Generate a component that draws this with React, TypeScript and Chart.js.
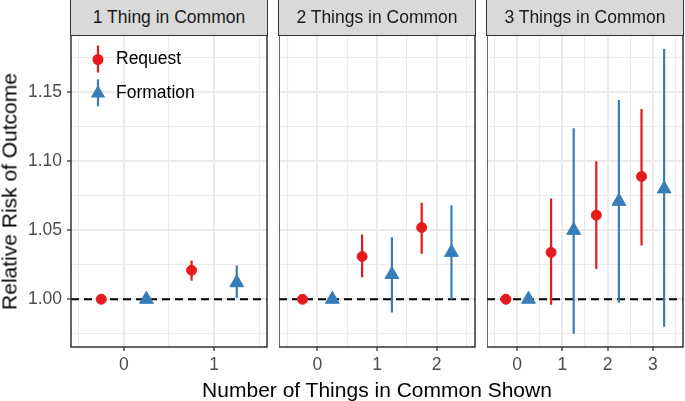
import React, { useEffect, useRef } from 'react';
import { Chart, registerables } from 'chart.js';

Chart.register(...registerables);

// ---------------- data ----------------
const PANEL_TITLES = ['1 Thing in Common', '2 Things in Common', '3 Things in Common'];
const SERIES_NAMES = ['Request', 'Formation'];
const SHOWN_COUNTS = [[0, 1], [0, 1, 2], [0, 1, 2, 3]];

const REQUEST_EST = [[1.0, 1.021], [1.0, 1.031, 1.052], [1.0, 1.034, 1.061, 1.089]];
const REQUEST_LOW = [[1.0, 1.0135], [1.0, 1.016, 1.033], [1.0, 0.996, 1.022, 1.039]];
const REQUEST_HIGH = [[1.0, 1.028], [1.0, 1.047, 1.07], [1.0, 1.073, 1.1, 1.138]];

const FORMATION_EST = [[1.0, 1.012], [1.0, 1.018, 1.034], [1.0, 1.05, 1.071, 1.08]];
const FORMATION_LOW = [[1.0, 1.001], [1.0, 0.9905, 1.0], [1.0, 0.975, 0.9975, 0.98]];
const FORMATION_HIGH = [[1.0, 1.0245], [1.0, 1.045, 1.068], [1.0, 1.124, 1.1445, 1.1815]];

const Y_MAJOR_TICKS = [1.0, 1.05, 1.1, 1.15];
const Y_MINOR_TICKS = [0.975, 1.025, 1.075, 1.125, 1.175];
const X_MAJOR_TICKS = SHOWN_COUNTS;
const X_MINOR_TICKS = [[-0.5, 0.5, 1.5], [-0.5, 0.5, 1.5, 2.5], [-0.5, 0.5, 1.5, 2.5, 3.5]];
const X_LIMITS = [[-0.585, 1.585], [-0.645, 2.645], [-0.667, 3.667]];
const Y_LIMITS = [0.9654, 1.1916];
const REFERENCE_LEVEL = 1.0;
const DODGE = 0.25;

const X_TITLE = 'Number of Things in Common Shown';
const Y_TITLE = 'Relative Risk of Outcome';

// ---------------- style / layout ----------------
const RED = '#E41A1C';
const BLUE = '#377EB8';
const FONT = "'Liberation Sans', Arial, Helvetica, sans-serif";
const W = 685;
const H = 401;
const PANEL_LEFT = [71, 279, 487];
const PANEL_WIDTH = 196;
const PANEL_TOP = 35;
const PANEL_BOTTOM = 347;

const near = (a: number, list: number[]) => list.some((v) => Math.abs(v - a) < 1e-6);

function errorBarData(k: number[], lo: number[], hi: number[], off: number) {
  const out: any[] = [];
  k.forEach((c, j) => {
    out.push({ x: c + off, y: lo[j] });
    out.push({ x: c + off, y: hi[j] });
    out.push({ x: c + off, y: null });
  });
  return out;
}

const decorPlugin = {
  id: 'panelDecor',
  beforeDatasetsDraw(chart: any) {
    const { ctx, chartArea, scales } = chart;
    const y = scales.y.getPixelForValue(REFERENCE_LEVEL);
    ctx.save();
    ctx.strokeStyle = '#000';
    ctx.lineWidth = 2;
    ctx.setLineDash([8, 5]);
    ctx.beginPath();
    ctx.moveTo(chartArea.left, y);
    ctx.lineTo(chartArea.right, y);
    ctx.stroke();
    ctx.restore();
  },
  afterDraw(chart: any) {
    const { ctx, chartArea } = chart;
    ctx.save();
    ctx.strokeStyle = '#333333';
    ctx.lineWidth = 1.5;
    ctx.strokeRect(chartArea.left, chartArea.top, chartArea.right - chartArea.left, chartArea.bottom - chartArea.top);
    ctx.restore();

    if (chart.options.plugins.panelDecor && chart.options.plugins.panelDecor.legend) {
      const keys = [
        { name: SERIES_NAMES[0], color: RED, shape: 'circle', r: 5.5, y: 59.5 },
        { name: SERIES_NAMES[1], color: BLUE, shape: 'triangle', r: 8.3, y: 93.3 },
      ];
      const kx = chartArea.left + 27;
      ctx.save();
      keys.forEach((k) => {
        ctx.strokeStyle = k.color;
        ctx.fillStyle = k.color;
        ctx.lineWidth = 2.2;
        ctx.beginPath();
        ctx.moveTo(kx, k.y - 14);
        ctx.lineTo(kx, k.y + 13);
        ctx.stroke();
        ctx.beginPath();
        if (k.shape === 'circle') {
          ctx.arc(kx, k.y, k.r, 0, Math.PI * 2);
        } else {
          const hx = (k.r * Math.sqrt(3)) / 2;
          ctx.moveTo(kx, k.y - k.r);
          ctx.lineTo(kx + hx, k.y + k.r / 2);
          ctx.lineTo(kx - hx, k.y + k.r / 2);
          ctx.closePath();
        }
        ctx.fill();
        ctx.fillStyle = '#000';
        ctx.font = `17.5px ${FONT}`;
        ctx.textBaseline = 'middle';
        ctx.textAlign = 'left';
        ctx.fillText(k.name, kx + 18, k.y);
      });
      ctx.restore();
    }
  },
};

function buildConfig(i: number): any {
  const k = SHOWN_COUNTS[i];
  const isFirst = i === 0;
  const reqPts = k.map((c, j) => ({ x: c - DODGE, y: REQUEST_EST[i][j] }));
  const formPts = k.map((c, j) => ({ x: c + DODGE, y: FORMATION_EST[i][j] }));
  const xTicks = [...X_MAJOR_TICKS[i], ...X_MINOR_TICKS[i]].sort((a, b) => a - b);
  const yTicks = [...Y_MAJOR_TICKS, ...Y_MINOR_TICKS].sort((a, b) => a - b);
  const tickFont = { family: FONT, size: 17.5 };

  return {
    type: 'scatter',
    data: {
      datasets: [
        {
          type: 'scatter', label: SERIES_NAMES[0], data: reqPts, pointStyle: 'circle',
          pointRadius: 5, backgroundColor: RED, borderColor: RED, borderWidth: 1,
        },
        {
          type: 'scatter', label: SERIES_NAMES[1], data: formPts, pointStyle: 'triangle',
          pointRadius: 8, backgroundColor: BLUE, borderColor: BLUE, borderWidth: 1,
        },
        {
          type: 'line', label: SERIES_NAMES[0] + ' CI',
          data: errorBarData(k, REQUEST_LOW[i], REQUEST_HIGH[i], -DODGE),
          borderColor: RED, borderWidth: 2.2, pointRadius: 0, spanGaps: false, fill: false,
          borderCapStyle: 'butt',
        },
        {
          type: 'line', label: SERIES_NAMES[1] + ' CI',
          data: errorBarData(k, FORMATION_LOW[i], FORMATION_HIGH[i], DODGE),
          borderColor: BLUE, borderWidth: 2.2, pointRadius: 0, spanGaps: false, fill: false,
          borderCapStyle: 'butt',
        },
      ],
    },
    options: {
      animation: false,
      responsive: false,
      devicePixelRatio: 1,
      events: [],
      layout: { autoPadding: false, padding: { top: PANEL_TOP, right: 2, left: 0, bottom: 0 } },
      plugins: {
        legend: { display: false },
        tooltip: { enabled: false },
        panelDecor: { legend: isFirst },
      },
      scales: {
        x: {
          type: 'linear',
          min: X_LIMITS[i][0],
          max: X_LIMITS[i][1],
          afterBuildTicks: (s: any) => { s.ticks = xTicks.map((v) => ({ value: v })); },
          afterFit: (s: any) => {
            s.height = H - PANEL_BOTTOM;
            s.paddingLeft = 0; s.paddingRight = 0; s.paddingTop = 0; s.paddingBottom = 0;
          },
          ticks: {
            autoSkip: false, maxRotation: 0, minRotation: 0, padding: 4,
            color: '#4D4D4D', font: tickFont,
            callback: (v: number) => (near(v, X_MAJOR_TICKS[i]) ? String(v) : ''),
          },
          grid: {
            color: '#EBEBEB',
            lineWidth: (c: any) => (c.tick && near(c.tick.value, X_MAJOR_TICKS[i]) ? 2 : 1.1),
            drawTicks: true,
            tickLength: 4,
            tickWidth: 1.3,
            tickColor: (c: any) => (c.tick && near(c.tick.value, X_MAJOR_TICKS[i]) ? '#333333' : 'rgba(0,0,0,0)'),
          },
          border: { display: false },
        },
        y: {
          type: 'linear',
          min: Y_LIMITS[0],
          max: Y_LIMITS[1],
          afterBuildTicks: (s: any) => { s.ticks = yTicks.map((v) => ({ value: v })); },
          afterFit: (s: any) => {
            s.width = isFirst ? PANEL_LEFT[0] : 0;
            s.paddingLeft = 0; s.paddingRight = 0; s.paddingTop = 0; s.paddingBottom = 0;
          },
          ticks: {
            display: isFirst, autoSkip: false, padding: 5,
            color: '#4D4D4D', font: tickFont,
            callback: (v: number) => (near(v, Y_MAJOR_TICKS) ? v.toFixed(2) : ''),
          },
          grid: {
            color: '#EBEBEB',
            lineWidth: (c: any) => (c.tick && near(c.tick.value, Y_MAJOR_TICKS) ? 2 : 1.1),
            drawTicks: isFirst,
            tickLength: 4,
            tickWidth: 1.3,
            tickColor: (c: any) => (c.tick && near(c.tick.value, Y_MAJOR_TICKS) ? '#333333' : 'rgba(0,0,0,0)'),
          },
          border: { display: false },
        },
      },
    },
    plugins: [decorPlugin],
  };
}

function Panel({ index }: { index: number }) {
  const ref = useRef<HTMLCanvasElement | null>(null);
  useEffect(() => {
    const chart = new Chart(ref.current as HTMLCanvasElement, buildConfig(index));
    return () => chart.destroy();
  }, [index]);
  const left = index === 0 ? 0 : PANEL_LEFT[index];
  const width = PANEL_LEFT[index] + PANEL_WIDTH + 2 - left;
  return (
    <canvas
      ref={ref}
      width={width}
      height={H}
      style={{ position: 'absolute', left, top: 0, width, height: H }}
    />
  );
}

export default function App() {
  return (
    <div
      style={{
        position: 'absolute', left: 0, top: 0, width: W, height: H,
        overflow: 'hidden', background: '#fff', fontFamily: FONT,
      }}
    >
      {PANEL_TITLES.map((_, i) => <Panel key={i} index={i} />)}
      {PANEL_TITLES.map((t, i) => (
        <div
          key={'s' + i}
          style={{
            position: 'absolute', left: PANEL_LEFT[i] - 0.75, top: -1,
            width: PANEL_WIDTH + 1.5, height: PANEL_TOP + 1.75,
            boxSizing: 'border-box', border: '1.5px solid #333333', background: '#D9D9D9',
            display: 'flex', alignItems: 'center', justifyContent: 'center',
            fontSize: 17.5, color: '#1A1A1A', whiteSpace: 'nowrap',
          }}
        >
          {t}
        </div>
      ))}
      <div
        style={{
          position: 'absolute', left: PANEL_LEFT[0], width: PANEL_LEFT[2] + PANEL_WIDTH - PANEL_LEFT[0],
          top: 378.7, height: 21, lineHeight: '21px', fontSize: 21, color: '#000',
          textAlign: 'center', whiteSpace: 'nowrap',
        }}
      >
        {X_TITLE}
      </div>
      <div
        style={{
          position: 'absolute', left: 8.5 - 150, top: (PANEL_TOP + PANEL_BOTTOM) / 2 - 10.5,
          width: 300, height: 21, lineHeight: '21px', fontSize: 21, color: '#000',
          textAlign: 'center', whiteSpace: 'nowrap', transform: 'rotate(-90deg)',
        }}
      >
        {Y_TITLE}
      </div>
    </div>
  );
}
